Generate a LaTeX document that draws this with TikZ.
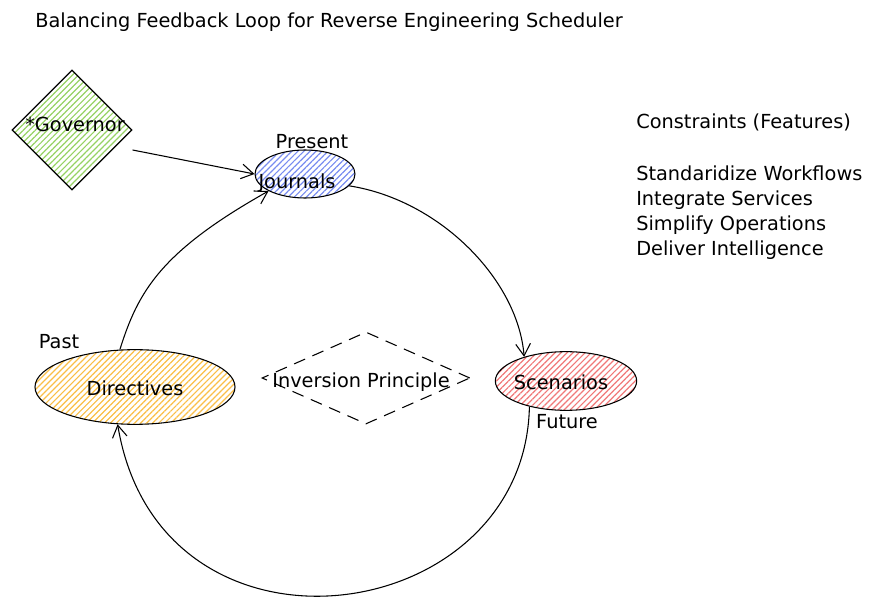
\documentclass[tikz,border=0pt]{standalone}
\usepackage{fontspec}
\setmainfont{DejaVu Sans}
\usetikzlibrary{shapes.geometric,arrows.meta,patterns.meta}
\definecolor{govgreen}{RGB}{150,210,100}
\definecolor{jourblue}{RGB}{120,140,240}
\definecolor{dirorange}{RGB}{250,190,70}
\definecolor{scenred}{RGB}{240,120,120}
\begin{document}
\begin{tikzpicture}[x=0.75pt,y=-0.75pt,
  font=\fontsize{14.5}{17}\selectfont,
  txt/.style={inner sep=0pt},
  arr/.style={draw=black, line width=0.8pt, -{Straight Barb[length=9pt,width=11pt,line width=0.8pt]}},
  hatch/.style={pattern={Lines[angle=45,distance=3.2pt,line width=0.9pt]}, pattern color=#1},
  shp/.style={draw=black, line width=0.8pt, inner sep=0pt}]
\useasboundingbox (0,0) rectangle (872,606);

\node[txt, anchor=west] (title) at (35,22) {Balancing Feedback Loop for Reverse Engineering Scheduler};

\node[shp, diamond, hatch=govgreen, minimum width=90pt, minimum height=90pt] (gov) at (72,130) {};
\node[txt] (govt) at (75,124) {*Governor};

\node[shp, ellipse, hatch=jourblue, minimum width=75pt, minimum height=36pt] (jour) at (305,174) {};
\node[txt] (jourt) at (297,183) {Journals};
\node[txt] (pres) at (312,142) {Present};

\node[shp, ellipse, hatch=dirorange, minimum width=150pt, minimum height=56pt] (dir) at (135,387) {};
\node[txt] (dirt) at (135,388) {Directives};
\node[txt] (past) at (59,342) {Past};

\node[shp, ellipse, hatch=scenred, minimum width=106pt, minimum height=44pt] (scen) at (566,381) {};
\node[txt] (scent) at (561,382) {Scenarios};
\node[txt] (fut) at (567,422) {Future};

\node[shp, diamond, dash pattern=on 9pt off 6pt, minimum width=156pt, minimum height=69pt] (inv) at (366,378) {};
\node[txt] (invt) at (361,382) {Inversion Principle};

\node[txt, anchor=west] (cons) at (636,122) {Constraints (Features)};
\node[txt, anchor=north west, align=left, font=\fontsize{14.5}{18.75}\selectfont] (feat) at (636,166)
  {Standaridize Workflows\\Integrate Services\\Simplify Operations\\Deliver Intelligence};

\coordinate (g1) at ([yshift=-15pt]gov.east);
\draw[arr] (g1) -- (jour.west);
\draw[arr] (dir.112) .. controls (138,292) and (160,252) .. (jour.205);
\draw[arr] (jour.-15) .. controls (440,200) and (518,280) .. (scen.150);
\draw[arr] (scen.215) .. controls (525,630) and (160,680) .. (dir.245);
\end{tikzpicture}
\end{document}
